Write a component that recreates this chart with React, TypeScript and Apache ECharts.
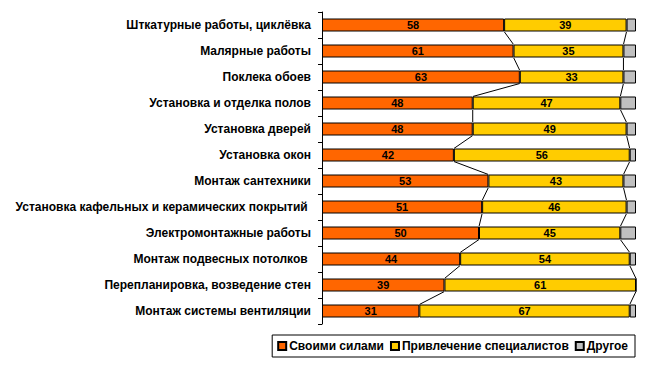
import React, { useEffect, useRef } from "react";
import * as echarts from "echarts";

const categories = [
  "Шткатурные работы, циклёвка",
  "Малярные работы",
  "Поклека обоев",
  "Установка и отделка полов",
  "Установка дверей",
  "Установка окон",
  "Монтаж сантехники",
  "Установка кафельных и керамических покрытий ",
  "Электромонтажные работы",
  "Монтаж подвесных потолков ",
  "Перепланировка, возведение стен",
  "Монтаж системы вентиляции",
];
const own = [58, 61, 63, 48, 48, 42, 53, 51, 50, 44, 39, 31];
const specialists = [39, 35, 33, 47, 49, 56, 43, 46, 45, 54, 61, 67];
const other = [3, 4, 4, 5, 3, 2, 4, 3, 5, 2, 0, 2];
const seriesNames = ["Своими силами", "Привлечение специалистов", "Другое"];

const FONT = "'Liberation Sans', Arial, sans-serif";

export default function App() {
  const ref = useRef<HTMLDivElement>(null);
  useEffect(() => {
    if (!ref.current) return;
    const chart = echarts.init(ref.current, null, { renderer: "svg" });
    const cumA = own;
    const cumB = own.map((v, i) => v + specialists[i]);
    const connectorData: number[][] = [];
    for (let i = 0; i < categories.length - 1; i++) {
      connectorData.push([cumA[i], i, cumA[i + 1], i + 1, cumB[i], cumB[i + 1]]);
    }
    const label = {
      show: true,
      position: "inside",
      color: "#000",
      fontWeight: "bold",
      fontSize: 11,
      fontFamily: FONT,
    };
    chart.setOption({
      animation: false,
      backgroundColor: "#fff",
      textStyle: { fontFamily: FONT },
      grid: { left: 322, right: 14, top: 12, bottom: 51, containLabel: false },
      xAxis: { type: "value", min: 0, max: 100, show: false },
      yAxis: {
        type: "category",
        data: categories,
        inverse: true,
        axisLine: { show: true, lineStyle: { color: "#000", width: 1 } },
        axisTick: { show: true, length: 4, lineStyle: { color: "#000" } },
        axisLabel: {
          color: "#000",
          fontWeight: "bold",
          fontSize: 12,
          fontFamily: FONT,
          margin: 11,
        },
        splitLine: { show: false },
      },
      legend: {
        top: 335,
        right: 15,
        orient: "horizontal",
        data: seriesNames.map((n) => ({ name: n, icon: "rect" })),
        itemWidth: 8,
        itemHeight: 8,
        itemGap: 6,
        padding: [5, 7, 5, 5],
        borderColor: "#000",
        borderWidth: 1,
        textStyle: { color: "#000", fontWeight: "bold", fontSize: 12, fontFamily: FONT, padding: [0, 0, 0, -2] },
      },
      series: [
        {
          name: seriesNames[0],
          type: "bar",
          stack: "s",
          data: own,
          barWidth: "50%",
          itemStyle: { color: "#FF6600", borderColor: "#000", borderWidth: 1 },
          label,
        },
        {
          name: seriesNames[1],
          type: "bar",
          stack: "s",
          data: specialists,
          barWidth: "50%",
          itemStyle: { color: "#FFCC00", borderColor: "#000", borderWidth: 1 },
          label,
        },
        {
          name: seriesNames[2],
          type: "bar",
          stack: "s",
          data: other,
          barWidth: "50%",
          itemStyle: { color: "#C0C0C0", borderColor: "#000", borderWidth: 1 },
        },
        {
          type: "custom",
          silent: true,
          encode: { x: [0, 2, 4, 5], y: [1, 3] },
          data: connectorData,
          z: 3,
          renderItem: (params: any, api: any) => {
            const h = api.size([0, 1])[1] * 0.25;
            const a1 = api.coord([api.value(0), api.value(1)]);
            const a2 = api.coord([api.value(2), api.value(3)]);
            const b1 = api.coord([api.value(4), api.value(1)]);
            const b2 = api.coord([api.value(5), api.value(3)]);
            const style = { stroke: "#000", lineWidth: 1 };
            return {
              type: "group",
              children: [
                { type: "line", shape: { x1: a1[0], y1: a1[1] + h, x2: a2[0], y2: a2[1] - h }, style },
                { type: "line", shape: { x1: b1[0], y1: b1[1] + h, x2: b2[0], y2: b2[1] - h }, style },
              ],
            };
          },
        },
      ],
    });
    return () => chart.dispose();
  }, []);
  return <div ref={ref} style={{ width: 650, height: 375, margin: -8 }} />;
}
